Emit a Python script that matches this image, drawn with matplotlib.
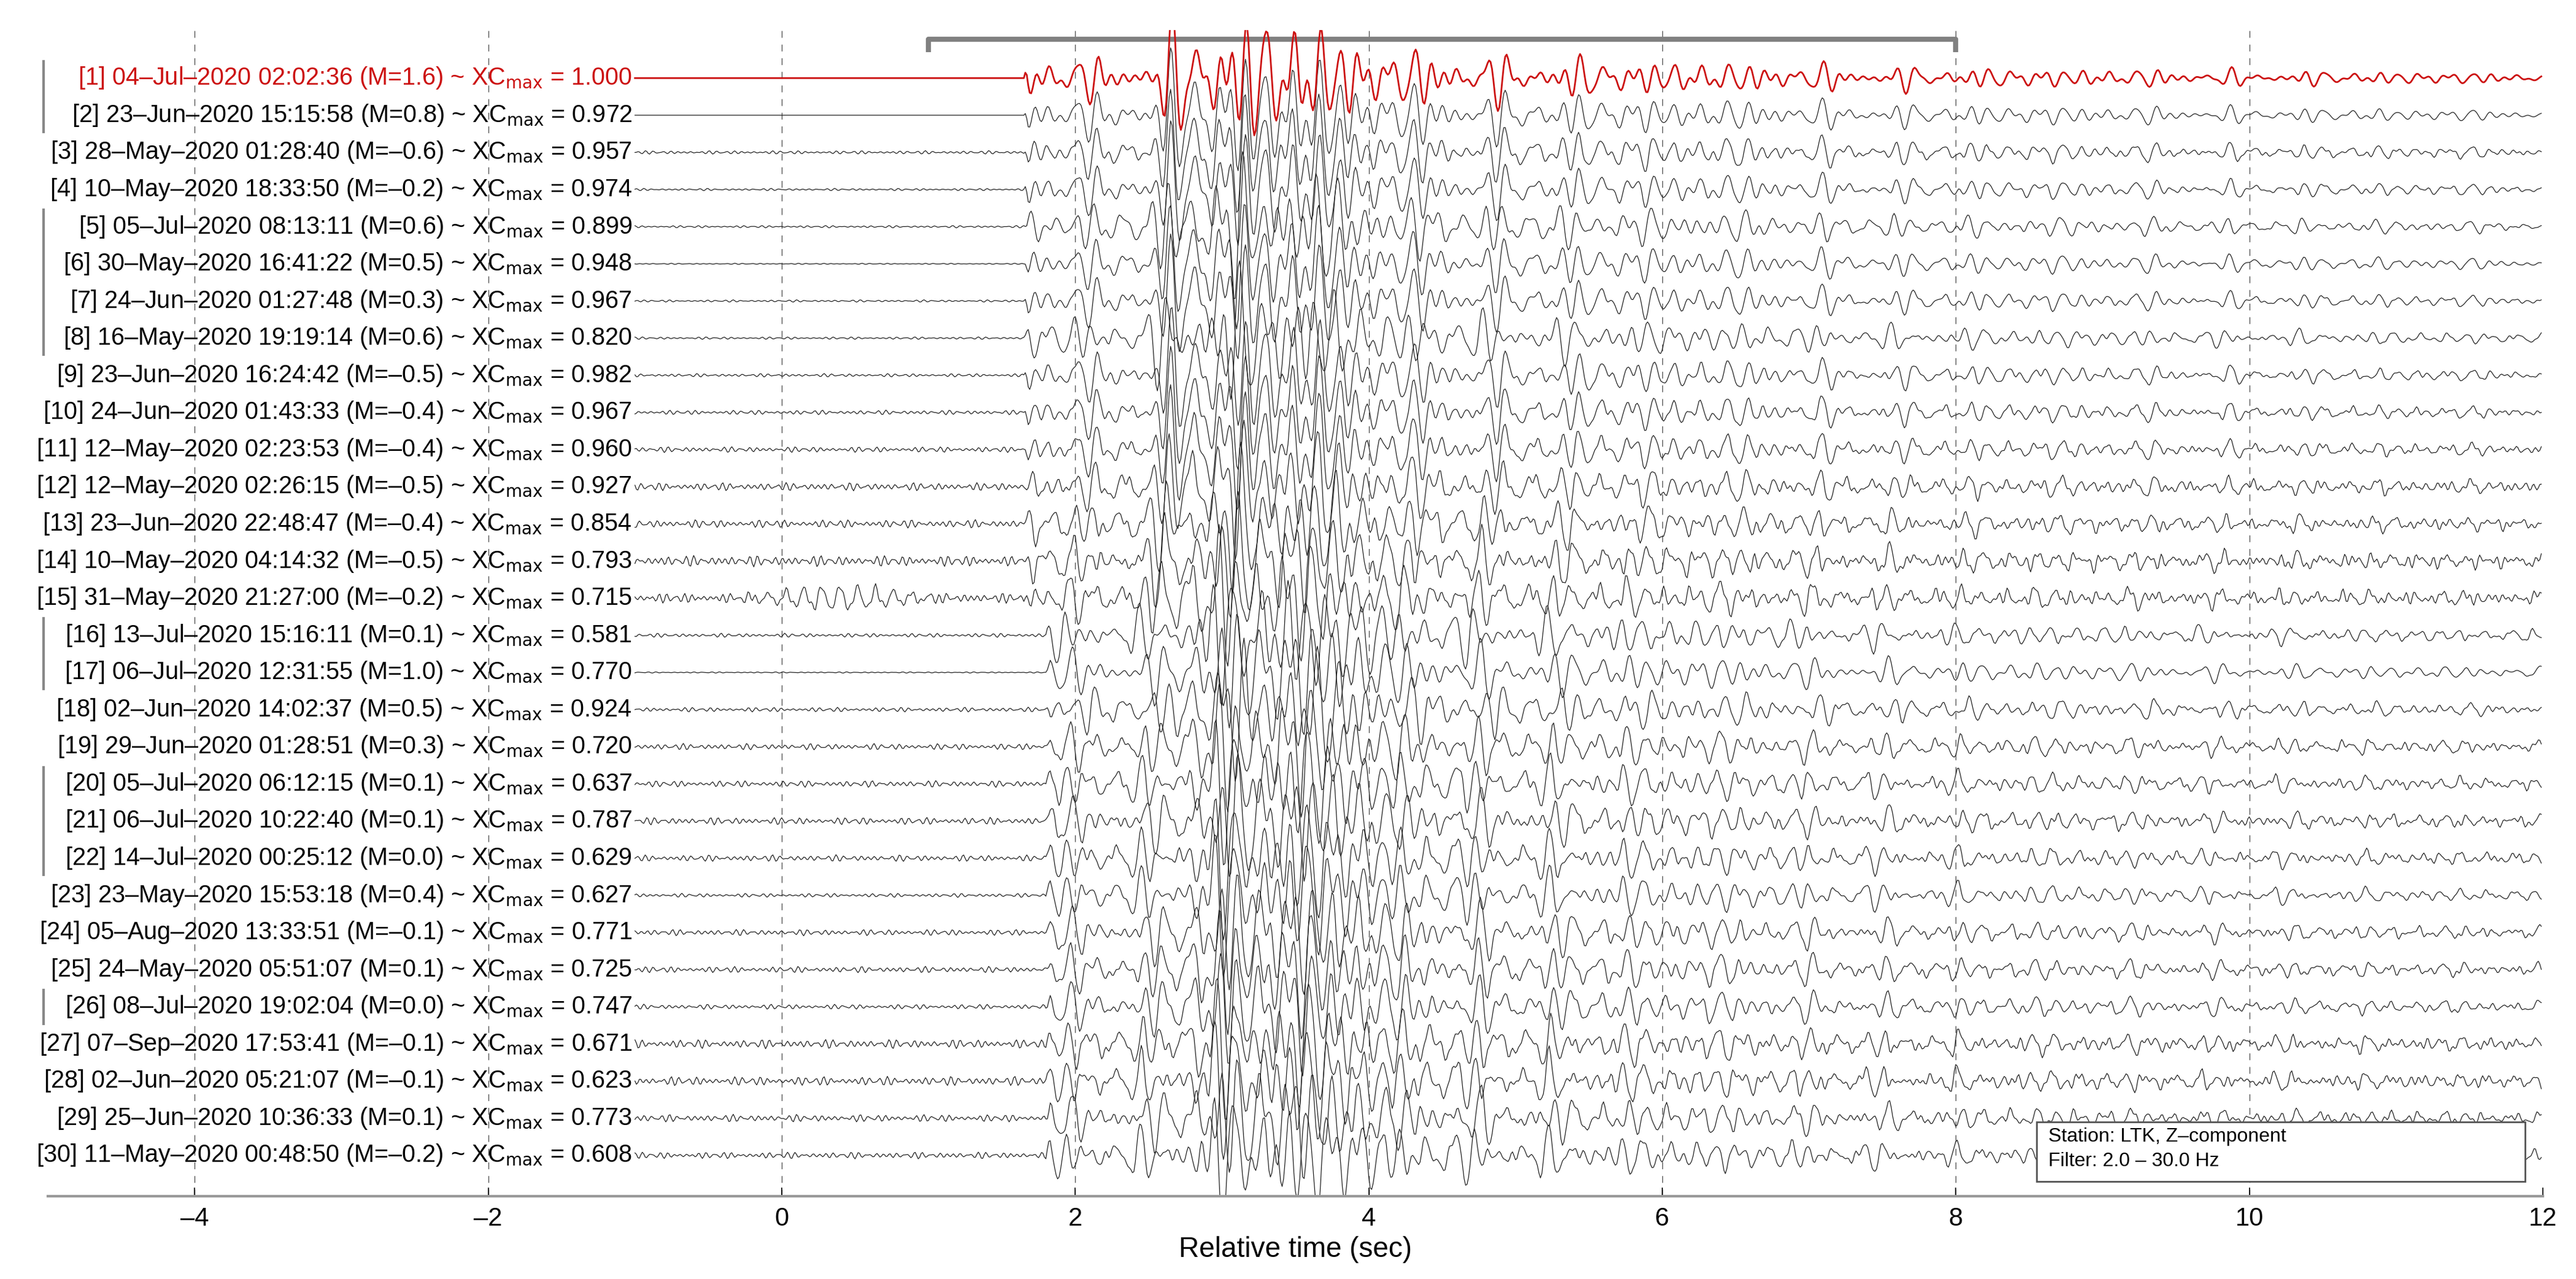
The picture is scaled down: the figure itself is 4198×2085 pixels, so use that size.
import numpy as np
import matplotlib
matplotlib.use("Agg")
import matplotlib.pyplot as plt
from matplotlib.patches import Rectangle

plt.rcParams['font.family'] = ['Liberation Sans Narrow', 'Liberation Sans', 'DejaVu Sans']
plt.rcParams['mathtext.fontset'] = 'custom'
plt.rcParams['mathtext.rm'] = 'Liberation Sans Narrow'
plt.rcParams['mathtext.it'] = 'Liberation Sans Narrow'

# event catalogue (row order as plotted)
dates = ["04–Jul–2020 02:02:36", "23–Jun–2020 15:15:58", "28–May–2020 01:28:40",
         "10–May–2020 18:33:50", "05–Jul–2020 08:13:11", "30–May–2020 16:41:22",
         "24–Jun–2020 01:27:48", "16–May–2020 19:19:14", "23–Jun–2020 16:24:42",
         "24–Jun–2020 01:43:33", "12–May–2020 02:23:53", "12–May–2020 02:26:15",
         "23–Jun–2020 22:48:47", "10–May–2020 04:14:32", "31–May–2020 21:27:00",
         "13–Jul–2020 15:16:11", "06–Jul–2020 12:31:55", "02–Jun–2020 14:02:37",
         "29–Jun–2020 01:28:51", "05–Jul–2020 06:12:15", "06–Jul–2020 10:22:40",
         "14–Jul–2020 00:25:12", "23–May–2020 15:53:18", "05–Aug–2020 13:33:51",
         "24–May–2020 05:51:07", "08–Jul–2020 19:02:04", "07–Sep–2020 17:53:41",
         "02–Jun–2020 05:21:07", "25–Jun–2020 10:36:33", "11–May–2020 00:48:50"]
mags = ["1.6", "0.8", "–0.6", "–0.2", "0.6", "0.5", "0.3", "0.6", "–0.5", "–0.4",
        "–0.4", "–0.5", "–0.4", "–0.5", "–0.2", "0.1", "1.0", "0.5", "0.3", "0.1",
        "0.1", "0.0", "0.4", "–0.1", "0.1", "0.0", "–0.1", "–0.1", "0.1", "–0.2"]
xc = [1.000, 0.972, 0.957, 0.974, 0.899, 0.948, 0.967, 0.820, 0.982, 0.967,
      0.960, 0.927, 0.854, 0.793, 0.715, 0.581, 0.770, 0.924, 0.720, 0.637,
      0.787, 0.629, 0.627, 0.771, 0.725, 0.747, 0.671, 0.623, 0.773, 0.608]
# visual reading of each trace: P onset (s) and pre-event noise level (row units)
onset = [1.65]*15 + [1.8]*15
noise = [0.0, 0.0, 0.03, 0.02, 0.02, 0.01, 0.02, 0.02, 0.03, 0.04,
         0.05, 0.07, 0.07, 0.09, 0.08, 0.03, 0.01, 0.04, 0.05, 0.05,
         0.06, 0.05, 0.03, 0.05, 0.05, 0.04, 0.07, 0.07, 0.06, 0.05]
# amplitude envelope read from the stack (time after onset s, half-amplitude in row units)
env_t = [0.0, 0.03, 0.15, 0.5, 0.85, 1.0, 1.3, 1.8, 2.15, 2.35, 3.0, 4.4, 6.4, 10.4]
env_a = [0.0, 0.75, 0.5, 0.5, 0.65, 1.3, 1.6, 1.5, 1.2, 0.75, 0.6, 0.4, 0.25, 0.12]
groups = [(1, 2), (5, 8), (16, 17), (20, 22), (26, 26)]
burst_row, burst_t, burst_a = 15, (-0.5, 1.3), 0.3

t = np.arange(-1.0, 12.0, 0.01)
freqs = [6.1, 7.9, 9.7, 11.9, 4.7]


def trace(i):
    k = 1.0 - xc[i]
    s = np.zeros_like(t)
    for j, f in enumerate(freqs):
        s += np.sin(2*np.pi*f*t + j*1.3 + k*(j+1)*6.0) / (j+1)**0.3
    s /= 2.4
    env = np.interp(t - onset[i], env_t, env_a, left=0.0, right=env_a[-1])
    n = np.sin(2*np.pi*17.3*t + i) * np.sin(2*np.pi*1.1*t + i*0.7) \
        + 0.6*np.sin(2*np.pi*23.1*t + 2*i)
    y = s*env + noise[i]*n*(1 + 0.5*k)
    if i + 1 == burst_row:
        m = (t > burst_t[0]) & (t < burst_t[1])
        y[m] += burst_a*np.sin(2*np.pi*8.2*t[m])*np.sin(np.pi*(t[m]-burst_t[0])/(burst_t[1]-burst_t[0]))**2
    return y


fig = plt.figure(figsize=(41.98, 20.85), dpi=100)
ax = fig.add_axes([0.0186, 0.0647, 0.9685, 0.912])

for g in np.arange(-4, 12, 2):
    ax.axvline(g, color="#555555", lw=1.0, ls=(0, (8, 8)), zorder=0)

for i in range(30):
    row = -(i + 1)
    red = i == 0
    col = "#cc1111" if red else "#222222"
    ax.plot(t, row + trace(i), color=col, lw=2.0 if red else 0.9, zorder=3 if red else 2)
    lab = f"[{i+1}] {dates[i]} (M={mags[i]}) ~ XC$_{{\\mathrm{{max}}}}$ = {xc[i]:.3f}"
    ax.text(-1.02, row, lab, ha="right", va="center", fontsize=28.5,
            color="#cc1111" if red else "black")

for a, b in groups:
    ax.plot([-5.03, -5.03], [-a + 0.45, -b - 0.45], color="#888888", lw=3, clip_on=False)

ax.plot([1, 1, 8, 8], [-0.3, 0.05, 0.05, -0.3], color="#808080", lw=6, solid_capstyle="butt")

ax.add_patch(Rectangle((8.55, -30.7), 3.33, 1.6, facecolor="white", edgecolor="#555555", lw=2, zorder=5))
ax.text(8.63, -29.5, "Station: LTK, Z–component", fontsize=23, va="center", zorder=6)
ax.text(8.63, -30.15, "Filter: 2.0 – 30.0 Hz", fontsize=23, va="center", zorder=6)

ax.set_xlim(-5, 12)
ax.set_ylim(-31.1, 0.3)
ax.set_xticks(np.arange(-4, 13, 2))
ax.set_xticklabels(["–4", "–2", "0", "2", "4", "6", "8", "10", "12"])
ax.set_yticks([])
ax.tick_params(axis="x", labelsize=30, length=10, width=1.2, direction="in", pad=12)
for s in ["top", "right"]:
    ax.spines[s].set_visible(False)
ax.spines["bottom"].set_linewidth(3)
ax.spines["bottom"].set_color("#999999")
ax.spines["left"].set_visible(False)
ax.set_xlabel("Relative time (sec)", fontsize=33, labelpad=6)

fig.savefig("out.png", dpi=100)
